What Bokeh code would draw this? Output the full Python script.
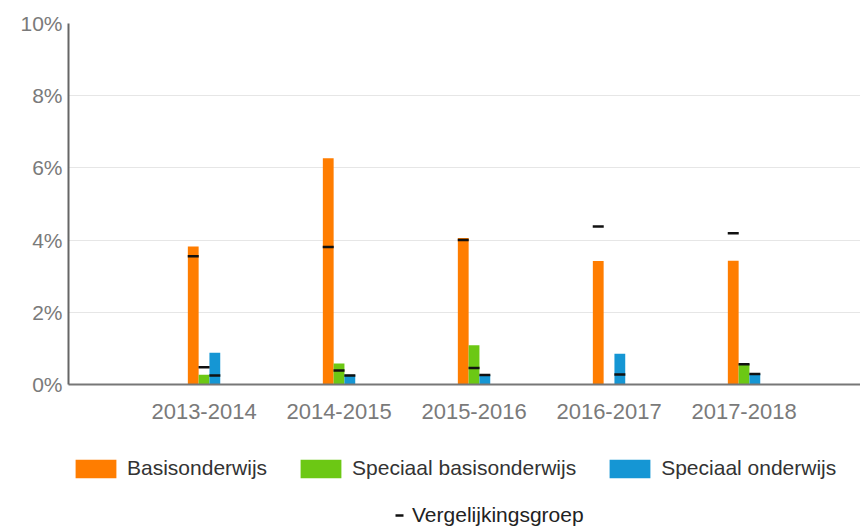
from bokeh.plotting import figure
from bokeh.layouts import column
from bokeh.models import ColumnDataSource, Range1d, FixedTicker, Legend, LegendItem
from bokeh.transform import dodge
from bokeh.embed import file_html
from bokeh.resources import INLINE

# ---- data (percentages) ----
years = ["2013-2014", "2014-2015", "2015-2016", "2016-2017", "2017-2018"]
slots = [1, 2, 3, 4, 5]
basisonderwijs = [3.82, 6.27, 4.06, 3.42, 3.43]
speciaal_basis = [0.27, 0.58, 1.09, 0.0, 0.57]
speciaal_ond = [0.88, 0.27, 0.26, 0.85, 0.30]
ref_basis = [3.55, 3.81, 4.00, 4.38, 4.19]
ref_sbo = [0.48, 0.39, 0.46, float("nan"), 0.56]
ref_so = [0.25, 0.25, 0.26, 0.28, 0.29]

y_ticks = [0, 2, 4, 6, 8, 10]
y_labels = ["0%", "2%", "4%", "6%", "8%", "10%"]

series_names = ["Basisonderwijs", "Speciaal basisonderwijs", "Speciaal onderwijs"]
ref_name = "Vergelijkingsgroep"

ORANGE = "#FF7D00"
GREEN = "#6CC814"
BLUE = "#1596D4"
MARK = "#111111"
colors = [ORANGE, GREEN, BLUE]

src = ColumnDataSource(dict(x=slots, year=years, basis=basisonderwijs, sbo=speciaal_basis,
                            so=speciaal_ond, rb=ref_basis, rsbo=ref_sbo, rso=ref_so))

FONT = "Liberation Sans"
W = 860
frame_w = W - 68
p = figure(width=W, height=440, output_backend="svg", toolbar_location=None,
           x_range=Range1d(-0.004, frame_w / 135.0 - 0.004), y_range=Range1d(0, 10),
           min_border_left=68, min_border_right=0, min_border_top=23, min_border_bottom=56)
p.outline_line_color = None

w = 0.08
offsets = [-w, 0, w]
tops = ["basis", "sbo", "so"]
refs = ["rb", "rsbo", "rso"]
for off, top, col in zip(offsets, tops, colors):
    p.vbar(x=dodge("x", off), top=top, width=w, source=src, fill_color=col, line_color=None)
for off, rf in zip(offsets, refs):
    p.scatter(x=dodge("x", off), y=rf, marker="dash", size=11, line_color=MARK,
              line_width=2.5, source=src)

# axes
p.xgrid.visible = False
p.ygrid.grid_line_color = "#e6e6e6"
p.ygrid.ticker = FixedTicker(ticks=y_ticks)

p.yaxis.ticker = FixedTicker(ticks=y_ticks)
p.yaxis.major_label_overrides = dict(zip(y_ticks, y_labels))
p.yaxis.axis_line_color = "#666666"
p.yaxis.axis_line_width = 2
p.yaxis.major_tick_line_color = None
p.yaxis.minor_tick_line_color = None
p.yaxis.major_tick_out = 0
p.yaxis.major_label_standoff = 6
p.yaxis.major_label_text_font = FONT
p.yaxis.major_label_text_font_size = "21px"
p.yaxis.major_label_text_color = "#7a7a7a"

p.xaxis.ticker = FixedTicker(ticks=slots)
p.xaxis.major_label_overrides = dict(zip(slots, years))
p.xaxis.axis_line_color = "#777777"
p.xaxis.axis_line_width = 2
p.xaxis.major_tick_line_color = None
p.xaxis.minor_tick_line_color = None
p.xaxis.major_tick_out = 0
p.xaxis.major_label_standoff = 19
p.xaxis.major_label_text_font = FONT
p.xaxis.major_label_text_font_size = "22px"
p.xaxis.major_label_text_color = "#7a7a7a"

# ---- legend strip (separate figure so nothing is clipped) ----
lg = figure(width=W, height=87, output_backend="svg", toolbar_location=None,
            x_axis_type=None, y_axis_type=None, x_range=Range1d(0, 1), y_range=Range1d(0, 1),
            min_border=0, min_border_left=0, min_border_right=0, min_border_top=0,
            min_border_bottom=0)
lg.outline_line_color = None
lg.xgrid.visible = False
lg.ygrid.visible = False
# one point far outside the visible range, only so the legend glyphs get drawn
offscreen = ColumnDataSource(dict(x=[-10], top=[-10], y=[-10]))
lg_items = []
for name, col in zip(series_names, colors):
    r = lg.vbar(x="x", top="top", width=0.1, source=offscreen, fill_color=col, line_color=None)
    lg_items.append(LegendItem(label=name, renderers=[r]))
rdash = lg.scatter(x="x", y="y", marker="dash", size=11, line_color=MARK, line_width=2.5,
                   source=offscreen)

# the column aligns this strip's frame with the chart frame (left edge at 68px)
legend1 = Legend(items=lg_items, orientation="horizontal", location=(2, 47),
                 glyph_width=51, glyph_height=23, label_standoff=6, spacing=28,
                 padding=0, margin=0, border_line_color=None, background_fill_alpha=0,
                 label_text_font=FONT, label_text_font_size="21px", label_text_color="#333333")
lg.add_layout(legend1)

legend2 = Legend(items=[LegendItem(label=ref_name, renderers=[rdash])],
                 orientation="horizontal", location=(321, 0),
                 glyph_width=20, glyph_height=20, label_standoff=3,
                 padding=0, margin=0, border_line_color=None, background_fill_alpha=0,
                 label_text_font=FONT, label_text_font_size="21px", label_text_color="#222222")
lg.add_layout(legend2)

layout = column(p, lg, spacing=0)
open("out.html", "w").write(file_html(layout, INLINE))
